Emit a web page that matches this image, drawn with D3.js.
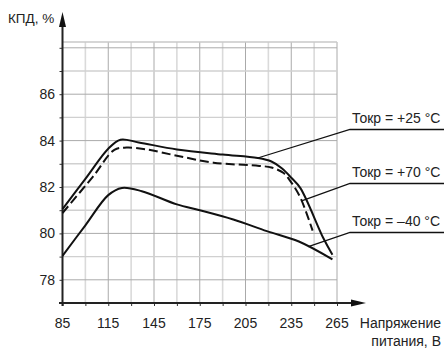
<!DOCTYPE html>
<html>
<head>
<meta charset="utf-8">
<script src="https://cdn.jsdelivr.net/npm/d3@7"></script>
<style>
  body { margin: 0; background: #fff; }
  text { font-family: "Liberation Sans", Arial, sans-serif; fill: #222; }
</style>
</head>
<body>
<svg id="chart" width="444" height="351"></svg>
<script>
// supply voltage, V  /  efficiency, %
const v25 = [85, 100, 115, 123, 135, 160, 190, 213, 222, 229, 235, 241, 256, 262];
const e25 = [81.05, 82.35, 83.65, 84.04, 83.92, 83.62, 83.4, 83.25, 83.1, 82.8, 82.4, 81.95, 79.8, 79.08];

const v70 = [85, 105, 119, 127, 140, 160, 184, 214, 222, 230, 235, 241, 249];
const e70 = [80.88, 82.45, 83.6, 83.7, 83.62, 83.35, 83.05, 82.91, 82.84, 82.6, 82.2, 81.54, 80.12];

const vM40 = [85, 100, 115, 124, 137, 160, 175, 197, 219, 240, 262];
const eM40 = [79.03, 80.35, 81.65, 81.96, 81.82, 81.25, 81.0, 80.6, 80.1, 79.65, 78.88];

const xTicks = [85, 115, 145, 175, 205, 235, 265];
const yTicks = [78, 80, 82, 84, 86];

const labels = ["Токр = +25 °C", "Токр = +70 °C", "Токр = –40 °C"];
const anchorV = [213, 241.8, 246.2];   // where each leader touches its curve

const svg = d3.select("#chart");

const x = d3.scaleLinear().domain([85, 265]).range([62.5, 337]);
const y = d3.scaleLinear().domain([77, 88.25]).range([303, 42]);

// grid, every 15 V and every 1 %
const gx = d3.range(85, 266, 15);
const gy = d3.range(78, 89, 1);
const grid = svg.append("g");
grid.selectAll(".gv").data(gx.slice(1)).join("line")
    .attr("x1", d => x(d)).attr("x2", d => x(d))
    .attr("y1", y(77)).attr("y2", y(88.25))
    .attr("stroke", d => (d - 85) % 30 === 0 ? "#aaa" : "#dadada")
    .attr("stroke-width", d => (d - 85) % 30 === 0 ? 1 : 1.6);
grid.selectAll(".gh").data(gy).join("line")
    .attr("x1", x(85)).attr("x2", x(265))
    .attr("y1", d => y(d)).attr("y2", d => y(d))
    .attr("stroke", d => d % 2 === 0 ? "#aaa" : "#d0d0d0")
    .attr("stroke-width", d => d % 2 === 0 ? 1 : 1.4);
grid.append("line")
    .attr("x1", x(85)).attr("x2", x(265))
    .attr("y1", y(88.25)).attr("y2", y(88.25))
    .attr("stroke", "#c8c8c8").attr("stroke-width", 1.4);

// axes
const xAxis = d3.axisBottom(x).tickValues(gx).tickSize(3).tickFormat("");
const yAxis = d3.axisLeft(y).tickValues(gy).tickSize(3).tickFormat("");
svg.append("g").attr("transform", `translate(0,${y(77)})`).call(xAxis)
    .call(g => g.select(".domain").remove())
    .selectAll("line").attr("stroke", "#333");
svg.append("g").attr("transform", `translate(${x(85)},0)`).call(yAxis)
    .call(g => g.select(".domain").remove())
    .selectAll("line").attr("stroke", "#333");

svg.append("line").attr("x1", 59).attr("x2", 355).attr("y1", y(77)).attr("y2", y(77))
    .attr("stroke", "#222").attr("stroke-width", 2);
svg.append("path").attr("d", `M366,${y(77)} L351,${y(77) - 3.5} L351,${y(77) + 3.5} Z`).attr("fill", "#111");
svg.append("line").attr("x1", x(85)).attr("x2", x(85)).attr("y1", y(77) + 3).attr("y2", 22)
    .attr("stroke", "#222").attr("stroke-width", 2);
svg.append("path").attr("d", `M${x(85)},12 L${x(85) - 3.5},27 L${x(85) + 3.5},27 Z`).attr("fill", "#111");

svg.selectAll(".xl").data(xTicks).join("text")
    .attr("x", d => x(d)).attr("y", 328)
    .attr("text-anchor", "middle").attr("font-size", 14).text(d => d);
svg.selectAll(".yl").data(yTicks).join("text")
    .attr("x", 55).attr("y", d => y(d)).attr("dy", "0.36em")
    .attr("text-anchor", "end").attr("font-size", 14).text(d => d);

svg.append("text").attr("x", 8).attr("y", 23).attr("font-size", 13.5).text("КПД, %");
svg.append("text").attr("x", 441).attr("y", 328).attr("text-anchor", "end").attr("font-size", 14).text("Напряжение");
svg.append("text").attr("x", 441).attr("y", 346).attr("text-anchor", "end").attr("font-size", 14).text("питания, В");

// curves
const line = d3.line().x(d => x(d[0])).y(d => y(d[1])).curve(d3.curveCatmullRom.alpha(0.5));
const series = [
    { v: v25, e: e25, dash: null },
    { v: v70, e: e70, dash: "9,4" },
    { v: vM40, e: eM40, dash: null }
];
series.forEach(s => {
    svg.append("path")
        .datum(d3.zip(s.v, s.e))
        .attr("d", line)
        .attr("fill", "none")
        .attr("stroke", "#111")
        .attr("stroke-width", 2)
        .attr("stroke-dasharray", s.dash);
});

// leaders + labels
const labelY = [129.5, 183.5, 232.5];
const valueAt = (vs, es, v) => d3.scaleLinear().domain(vs).range(es)(v);
series.forEach((s, i) => {
    const ax = x(anchorV[i]);
    const ay = y(valueAt(s.v, s.e, anchorV[i]));
    svg.append("polyline")
        .attr("points", `${ax},${ay} 350,${labelY[i]} 444,${labelY[i]}`)
        .attr("fill", "none").attr("stroke", "#111").attr("stroke-width", 1.3);
    svg.append("text").attr("x", 352).attr("y", labelY[i] - 6.5)
        .attr("font-size", 14).text(labels[i]);
});
</script>
</body>
</html>
